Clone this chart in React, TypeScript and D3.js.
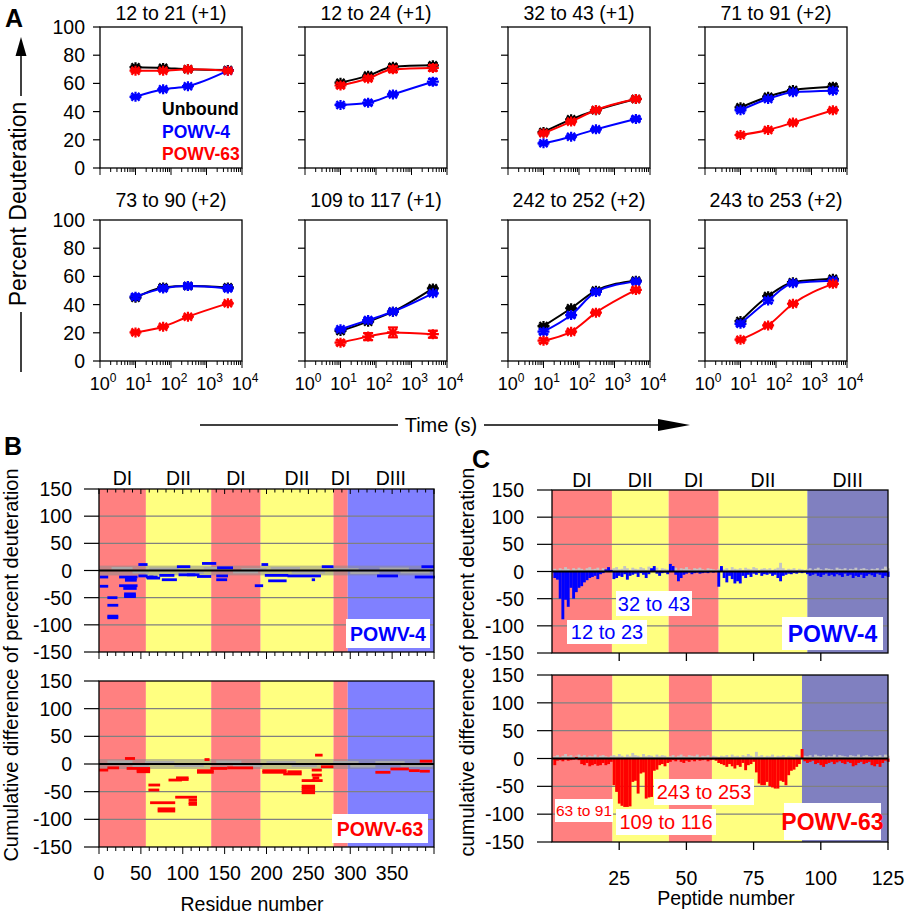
import React from "react";
import * as d3 from "d3";

const FONT = "'Liberation Sans', Arial, Helvetica, sans-serif";

// ---------------- Panel A data ----------------
const aTitles = [
  "12 to 21 (+1)", "12 to 24 (+1)", "32 to 43 (+1)", "71 to 91 (+2)",
  "73 to 90 (+2)", "109 to 117 (+1)", "242 to 252 (+2)", "243 to 253 (+2)",
];
const aTimes = [10, 60, 300, 4000];
const aUnbound = [
  [71.5, 71, 70, 69.5], [60.5, 65.5, 71.8, 72.8], [25.5, 34.5, 41, 49], [43, 50.6, 55.3, 57.7],
  [44.9, 52.2, 53.2, 52.2], [21.3, 27.9, 35, 51.5], [24.8, 37.4, 49.9, 57], [28.3, 46, 55.9, 58.3],
];
const aPowv4 = [
  [50.5, 55.8, 58, 69], [44.7, 46.3, 52.2, 61.2], [17.5, 22.2, 27.4, 34.8], [41, 49, 53.7, 54.8],
  [45.6, 51.5, 53.2, 51.5], [22.5, 29, 35, 48], [20.8, 32.6, 49, 56.3], [26.4, 42.9, 55.2, 57],
];
const aPowv63 = [
  [69, 69, 70, 69], [58.5, 63.5, 70, 71], [24.6, 32.9, 41.1, 48.9], [23.4, 27, 32.2, 41],
  [20.3, 24.3, 31.4, 40.9], [13, 17.3, 20.3, 19], [14.4, 20.8, 34.3, 50.4], [15.1, 25.2, 40.6, 54.7],
];
const aErrU = [
  [1, 1, 1, 1], [1, 1, 1.5, 1.5], [1, 1, 1, 1], [1, 1, 1, 1.5],
  [1, 1.5, 1.5, 1.5], [1, 1, 1, 1], [1, 1, 1, 1], [1, 1, 1, 1],
];
const aErr4 = [
  [1, 1, 1, 1], [1, 1.5, 1, 2], [1, 1, 1, 1.5], [1, 1, 1, 1.5],
  [1.5, 1.5, 1.5, 1.5], [1, 1.5, 1, 1], [1.5, 1.5, 1.5, 1], [1.5, 1.5, 1, 1],
];
const aErr63 = [
  [1, 1, 1, 1], [1.5, 1.5, 2, 2], [1, 1, 1, 1], [1, 1, 1, 1],
  [1, 1, 1, 1], [1.5, 2.5, 3.5, 2.5], [1.5, 1, 1, 1.5], [1, 1, 1, 1],
];
const aLegend = ["Unbound", "POWV-4", "POWV-63"];

// ---------------- Panel B data (residue segments: start, end, value) ----------------
const bRegions: [number, number, string][] = [
  [0, 56, "DI"], [56, 134, "DII"], [134, 193, "DI"], [193, 280, "DII"], [280, 297, "DI"], [297, 400, "DIII"],
];
const bTicks = [0, 50, 100, 150, 200, 250, 300, 350];
const bPowv4: [number, number, number][] = [
  [1, 11, -12], [1, 11, -29], [10, 22, -50], [10, 23, -64], [10, 23, -84], [10, 23, -87],
  [24, 46, -12], [31, 45, -15], [31, 45, -18], [24, 46, -28], [29, 45, -33], [30, 44, -43],
  [30, 44, -46], [30, 44, -48], [47, 58, 11], [47, 58, -10], [57, 73, -14], [60, 70, -12],
  [56, 65, -12], [72, 90, -9], [75, 93, -17], [93, 109, 7], [95, 115, -8], [105, 120, -8],
  [117, 134, -11], [123, 140, 13], [141, 160, 5], [140, 154, -10], [140, 153, -17], [186, 196, -28],
  [194, 202, 11], [198, 226, -9], [202, 224, -19], [225, 265, -10], [254, 258, -17], [266, 280, 7],
  [332, 357, -10], [377, 401, -12], [385, 400, 7],
];
const bGray4: [number, number, number][] = [
  [15, 40, 4], [40, 60, -3], [60, 95, 3], [95, 125, -4], [125, 160, 4], [160, 190, -3], [170, 200, 2],
  [205, 240, 4], [230, 270, -3], [280, 310, 2], [300, 335, -4], [335, 370, 3], [360, 395, -3],
];
const bPowv63: [number, number, number][] = [
  [0, 11, -11], [10, 24, -7], [31, 43, 10], [33, 61, -8], [45, 61, -11], [45, 61, -14],
  [59, 73, -38], [59, 72, -47], [61, 91, -70], [70, 91, -81], [70, 91, -85], [83, 99, -29],
  [92, 107, -25], [92, 107, -28], [91, 117, -60], [107, 117, -65], [107, 117, -70], [107, 117, -73],
  [117, 137, -12], [117, 137, -15], [126, 132, 8], [133, 153, -8], [153, 184, -7], [195, 224, -12],
  [195, 224, -15], [220, 242, -18], [225, 242, -14], [242, 258, -30], [242, 258, -40], [242, 258, -44],
  [242, 258, -48], [242, 258, -52], [254, 266, -20], [255, 263, -25], [254, 267, -30], [258, 267, 16],
  [254, 266, -11], [265, 280, -5], [330, 348, -15], [348, 370, -9], [370, 383, -12], [383, 395, -13],
  [383, 398, 5],
];
const bGray63: [number, number, number][] = [
  [10, 40, 4], [40, 60, -3], [55, 90, 3], [90, 125, -3], [140, 170, 4], [160, 195, -3], [200, 235, 3],
  [230, 260, -3], [280, 310, 3], [300, 330, -4], [330, 365, 3], [360, 398, -3],
];

// ---------------- Panel C data (per-peptide values) ----------------
const cRegionsTop: [number, number, string][] = [
  [0, 22.3, "DI"], [22.3, 43.4, "DII"], [43.4, 62, "DI"], [62, 95, "DII"], [95, 125, "DIII"],
];
const cRegionsBottom: [number, number, string][] = [
  [0, 22.5, "DI"], [22.5, 43.5, "DII"], [43.5, 59.5, "DI"], [59.5, 93, "DII"], [93, 125, "DIII"],
];
const cTicks = [25, 50, 75, 100, 125];
const cPowv4 = [
  -12, -15, -50, -88, -52, -65, -30, -50, -38, -30, -27, -20, -16, -12, -10, -8, -14, -5, -3, 4, 8, 3,
  -14, -12, -8, -10, -5, -15, -8, -6, -4, -10, -3, -6, -12, -5, 6, 10, -4, -8, -3, -2, -5,
  14, 10, -6, -18, -12, -6, -4, -2, -5, -3, -2, -4, -3, -2, -3, -1, -2, -1,
  -28, 10, -12, -20, -8, -14, -22, -18, -22, -8, -12, -6, -10, -4, -6, -3, -8, -5, -6, -4, -8, -6, -12, -18, -8, -6, -4, -5, -3, -4, -2, -3, -2,
  -5, -8, -6, -4, -8, -10, -6, -4, -8, -6, -9, -5, -7, -10, -4, -8, -6, -12, -8, -10, -6, -12, -8, -5, -7, -10, -4, -6, -12, -8, -10,
];
const cGray4 = [
  5, 3, 6, 4, 8, 5, 3, 6, 4, 7, 5, 3, 6, 8, 4, 5, 7, 3, 6, 4, 5, 3,
  6, 8, 4, 5, 10, 6, 3, 7, 5, 4, 8, 6, 3, 9, 5, 4, 7, 3, 6, 5, 4,
  5, 4, 7, 3, 6, 5, 8, 4, 3, 6, 5, 7, 4, 3, 6, 5, 4, 3,
  5, 7, 4, 6, 3, 8, 5, 4, 6, 3, 7, 5, 4, 8, 6, 3, 5, 6, 4, 6, 3, 5, 7, 16, 6, 3, 5, 4, 6, 3, 5, 4, 3,
  4, 6, 3, 5, 7, 4, 3, 6, 5, 4, 3, 7, 5, 4, 6, 3, 5, 4, 7, 3, 5, 6, 4, 3, 5, 4, 6, 3, 5, 9, 6,
];
const cPowv63 = [
  -12, -4, -3, -5, -2, -4, -3, -2, 3, -3, -10, -12, -8, -14, -12, -10, -13, -12, -8, -12, -10, -6,
  -48, -60, -81, -85, -87, -87, -86, -42, -40, -63, -27, -25, -72, -70, -69, -22, -20, -12, -10, -14, -8,
  -6, -3, -5, -2, -6, -8, -4, -6, -3, -5, -2, -4, -3, -2, -5, -3, -2, -4,
  -8, -10, -12, -15, -10, -14, -18, -12, -15, -8, -21, -12, -10, -6, -25, -45, -48, -48, -42, -50, -52, -54, -54, -40, -42, -48, -30, -22, -20, -15, -10, 17,
  -5, -8, -6, -4, -10, -8, -12, -15, -10, -8, -6, -10, -7, -5, -8, -10, -6, -8, -14, -12, -8, -6, -10, -8, -6, -12, -14, -10, -15, -8, -4, -6,
];
const cGray63 = [
  4, 6, 3, 5, 8, 4, 6, 3, 5, 7, 4, 6, 3, 5, 4, 7, 3, 5, 6, 4, 3, 5,
  6, 4, 8, 5, 3, 7, 4, 10, 6, 5, 3, 8, 4, 6, 5, 3, 7, 4, 6, 5, 3,
  4, 6, 3, 5, 7, 4, 3, 6, 5, 4, 7, 3, 5, 4, 6, 3, 5, 4,
  3, 5, 4, 6, 3, 7, 4, 5, 3, 6, 4, 8, 5, 3, 12, 4, 6, 3, 5, 4, 7, 3, 5, 4, 6, 3, 5, 4, 3, 7, 5, 4,
  5, 4, 6, 3, 7, 5, 4, 6, 3, 5, 4, 7, 3, 6, 5, 4, 3, 6, 5, 4, 7, 3, 5, 6, 4, 3, 5, 4, 6, 3, 7, 5,
];

const yTicksBC = [150, 100, 50, 0, -50, -100, -150];
const fillB: Record<string, string> = { DI: "#FF8080", DII: "#FFFF80", DIII: "#8080FF" };
const fillC: Record<string, string> = { DI: "#FF8080", DII: "#FFFF80", DIII: "#8080C0" };

// ---------------- Panel A component ----------------
const aColLeft = [100, 305, 508, 705];
const aRowTop = [27, 220];
const AW = 142, AH = 141;

function asterisk(cx: number, cy: number) {
  return `M${cx - 6},${cy}H${cx + 6}M${cx},${cy - 5}V${cy + 5}M${cx - 4},${cy - 4}L${cx + 4},${cy + 4}M${cx - 4},${cy + 4}L${cx + 4},${cy - 4}`;
}

function SmallPlot({ i }: { i: number }) {
  const col = i % 4, row = Math.floor(i / 4);
  const left = aColLeft[col], top = aRowTop[row];
  const x = d3.scaleLog().domain([1, 1e4]).range([left, left + AW]);
  const y = d3.scaleLinear().domain([0, 100]).range([top + AH, top]);
  const line = d3.line<number>().x((_, k) => x(aTimes[k])).y((d) => y(d)).curve(d3.curveMonotoneX);
  const ticks: { v: number; major: boolean }[] = [];
  for (let k = 0; k < 4; k++) for (let m = 1; m < 10; m++) ticks.push({ v: m * Math.pow(10, k), major: m === 1 });
  ticks.push({ v: 1e4, major: true });
  const series = [
    { data: aUnbound[i], err: aErrU[i], color: "#000000" },
    { data: aPowv4[i], err: aErr4[i], color: "#0000FF" },
    { data: aPowv63[i], err: aErr63[i], color: "#FF0000" },
  ];
  return (
    <g>
      <text x={left + AW / 2} y={row === 0 ? 20 : 207} textAnchor="middle" fontSize={19.5}>{aTitles[i]}</text>
      <rect x={left} y={top} width={AW} height={AH} fill="#fff" stroke="#000" strokeWidth={1.3} />
      {y.ticks(5).map((t) => (
        <g key={"y" + t}>
          <line x1={left - 7} x2={left} y1={y(t)} y2={y(t)} stroke="#000" strokeWidth={1.2} />
          {col === 0 && (
            <text x={left - 15} y={y(t) + 7} textAnchor="end" fontSize={19.5}>{t}</text>
          )}
        </g>
      ))}
      {ticks.map((t, k) => (
        <line key={"x" + k} x1={x(t.v)} x2={x(t.v)} y1={top + AH} y2={top + AH + (t.major ? 7 : 4)} stroke="#000" strokeWidth={1} />
      ))}
      {row === 1 && [0, 1, 2, 3, 4].map((k) => (
        <text key={"xl" + k} x={x(Math.pow(10, k)) + 3} y={390} textAnchor="middle" fontSize={18}>
          10<tspan fontSize={12} dy={-8}>{k}</tspan>
        </text>
      ))}
      {series.map((s, si) => (
        <g key={"s" + si}>
          <path d={line(s.data) || ""} fill="none" stroke={s.color} strokeWidth={2} />
          {s.data.map((v, k) => {
            const cx = x(aTimes[k]);
            const e = s.err[k];
            return (
              <g key={k} stroke={s.color} strokeWidth={2.2} fill="none">
                <path d={asterisk(cx, y(v))} />
                <line x1={cx} x2={cx} y1={y(v - e)} y2={y(v + e)} />
                <line x1={cx - 5} x2={cx + 5} y1={y(v - e)} y2={y(v - e)} />
                <line x1={cx - 5} x2={cx + 5} y1={y(v + e)} y2={y(v + e)} />
              </g>
            );
          })}
        </g>
      ))}
      {i === 0 && (
        <g fontWeight="bold" fontSize={17.5}>
          <text x={162} y={115} fill="#000">{aLegend[0]}</text>
          <text x={162} y={138} fill="#0000FF">{aLegend[1]}</text>
          <text x={162} y={160} fill="#FF0000">{aLegend[2]}</text>
        </g>
      )}
    </g>
  );
}

// ---------------- Panel B component ----------------
function BPanel({ y0, y1, segs, grays, color, label, top, box }: any) {
  const L = 99, R = 434;
  const x = d3.scaleLinear().domain([0, 400]).range([L, R]);
  const y = d3.scaleLinear().domain([-150, 150]).range([y1, y0]);
  const minor = d3.range(0, 401, 10);
  return (
    <g>
      {bRegions.map((r, k) => (
        <rect key={"r" + k} x={x(r[0])} y={y0} width={x(r[1]) - x(r[0])} height={y1 - y0} fill={fillB[r[2]]} />
      ))}
      {top && bRegions.map((r, k) => (
        <text key={"d" + k} x={(x(r[0]) + x(r[1])) / 2} y={485} textAnchor="middle" fontSize={19.5}>{r[2]}</text>
      ))}
      {[100, 50, -50, -100].map((v) => (
        <line key={"g" + v} x1={L} x2={R} y1={y(v)} y2={y(v)} stroke="#808080" strokeWidth={1.2} />
      ))}
      <rect x={L} y={y(9)} width={R - L} height={y(-9) - y(9)} fill="#8a8a8a" opacity={0.55} />
      {grays.map((s: number[], k: number) => (
        <rect key={"gs" + k} x={x(s[0])} y={y(s[2]) - 1.3} width={x(s[1]) - x(s[0])} height={2.6} fill="#a8a8a8" />
      ))}
      {segs.map((s: number[], k: number) => (
        <rect key={"s" + k} x={x(s[0])} y={y(s[2]) - 1.4} width={x(s[1]) - x(s[0])} height={2.8} fill={color} />
      ))}
      <line x1={L} x2={R} y1={y(0)} y2={y(0)} stroke="#000" strokeWidth={2} />
      <rect x={L} y={y0} width={R - L} height={y1 - y0} fill="none" stroke="#000" strokeWidth={1.3} />
      {yTicksBC.map((t) => (
        <g key={"yt" + t}>
          <line x1={L - 15} x2={L} y1={y(t)} y2={y(t)} stroke="#000" strokeWidth={1.2} />
          <text x={72} y={y(t) + 7} textAnchor="end" fontSize={19.5}>{t}</text>
        </g>
      ))}
      {minor.map((v) => (
        <line key={"xt" + v} x1={x(v)} x2={x(v)} y1={y1} y2={y1 + (v % 50 === 0 ? 7 : 4)} stroke="#000" strokeWidth={1} />
      ))}
      {top && minor.map((v) => (
        <line key={"tt" + v} x1={x(v)} x2={x(v)} y1={y0} y2={y0 + (v % 50 === 0 ? 5 : 3.5)} stroke="#000" strokeWidth={1} />
      ))}
      {!top && bTicks.map((v) => (
        <text key={"xl" + v} x={x(v)} y={880} textAnchor="middle" fontSize={19.5}>{v}</text>
      ))}
      <rect x={box[0]} y={box[1]} width={box[2]} height={box[3]} fill="#fff" />
      <text x={box[0] + box[2] / 2} y={box[1] + box[3] / 2 + 7} textAnchor="middle" fontSize={19.5} fontWeight="bold" fill={color}>{label}</text>
    </g>
  );
}

// ---------------- Panel C component ----------------
function CPanel({ y0, y1, vals, grays, color, regions, top, notes }: any) {
  const L = 552, R = 888;
  const x = d3.scaleLinear().domain([0, 125]).range([L, R]);
  const y = d3.scaleLinear().domain([-150, 150]).range([y1, y0]);
  const bw = x(1) - x(0);
  return (
    <g>
      {regions.map((r: any, k: number) => (
        <rect key={"r" + k} x={x(r[0])} y={y0} width={x(r[1]) - x(r[0])} height={y1 - y0} fill={fillC[r[2]]} />
      ))}
      {top && regions.map((r: any, k: number) => (
        <text key={"d" + k} x={(x(r[0]) + x(r[1])) / 2} y={487} textAnchor="middle" fontSize={19.5}>{r[2]}</text>
      ))}
      {[100, 50, -50, -100].map((v) => (
        <line key={"g" + v} x1={L} x2={R} y1={y(v)} y2={y(v)} stroke="#808080" strokeWidth={1.2} />
      ))}
      {grays.map((v: number, k: number) => (
        <rect key={"gb" + k} x={x(k + 0.5)} y={Math.min(y(v), y(0))} width={bw + 0.2} height={Math.abs(y(v) - y(0))} fill="#c4c4c4" />
      ))}
      {vals.map((v: number, k: number) => (
        <rect key={"b" + k} x={x(k + 0.5)} y={Math.min(y(v), y(0))} width={bw + 0.2} height={Math.abs(y(v) - y(0))} fill={color} />
      ))}
      <line x1={L} x2={R} y1={y(0)} y2={y(0)} stroke="#000" strokeWidth={1.8} />
      <rect x={L} y={y0} width={R - L} height={y1 - y0} fill="none" stroke="#000" strokeWidth={1.3} />
      {yTicksBC.map((t) => (
        <g key={"yt" + t}>
          <line x1={L - 15} x2={L} y1={y(t)} y2={y(t)} stroke="#000" strokeWidth={1.2} />
          <text x={524} y={y(t) + 7} textAnchor="end" fontSize={19.5}>{t}</text>
        </g>
      ))}
      {(top ? cTicks.slice(0, 4) : cTicks).map((v) => (
        <line key={"xt" + v} x1={x(v)} x2={x(v)} y1={y1} y2={y1 + 8} stroke="#000" strokeWidth={1.3} />
      ))}
      {!top && cTicks.map((v) => (
        <text key={"xl" + v} x={x(v)} y={885} textAnchor="middle" fontSize={19.5}>{v}</text>
      ))}
      {notes.map((n: any, k: number) => (
        <g key={"n" + k}>
          <rect x={n.x} y={n.y} width={n.w} height={n.h} fill="#fff" />
          <text x={n.x + n.w / 2} y={n.y + n.h / 2 + n.fs * 0.36} textAnchor="middle" fontSize={n.fs} fontWeight={n.bold ? "bold" : "normal"} fill={color}>{n.t}</text>
        </g>
      ))}
    </g>
  );
}

export default function App() {
  return (
    <svg width={906} height={915} viewBox="0 0 906 915" fontFamily={FONT}
      style={{ position: "absolute", left: 0, top: 0, display: "block", background: "#fff" }}>
      <rect width={906} height={915} fill="#fff" />
      {/* Panel letters */}
      <text x={5} y={27} fontSize={25} fontWeight="bold">A</text>
      <text x={4} y={455} fontSize={25} fontWeight="bold">B</text>
      <text x={472} y={468} fontSize={25} fontWeight="bold">C</text>

      {/* Panel A */}
      {d3.range(8).map((i) => <SmallPlot key={i} i={i} />)}
      {/* A y-axis label with arrow */}
      <line x1={21} x2={21} y1={372} y2={312} stroke="#000" strokeWidth={1.5} />
      <line x1={21} x2={21} y1={96} y2={54} stroke="#000" strokeWidth={1.5} />
      <path d="M15.5,56 L26.5,56 L21,37 Z" fill="#000" />
      <text transform="translate(26,204) rotate(-90)" textAnchor="middle" fontSize={23}>Percent Deuteration</text>
      {/* Time axis label with arrow */}
      <line x1={200} x2={398} y1={425} y2={425} stroke="#000" strokeWidth={1.5} />
      <line x1={484} x2={660} y1={425} y2={425} stroke="#000" strokeWidth={1.5} />
      <path d="M658,419 L658,431 L690,425 Z" fill="#000" />
      <text x={441} y={432} textAnchor="middle" fontSize={20}>Time (s)</text>

      {/* Panel B */}
      <BPanel y0={489} y1={652} segs={bPowv4} grays={bGray4} color="#0000FF" label="POWV-4" top={true} box={[346, 619, 84, 29]} />
      <BPanel y0={681} y1={847} segs={bPowv63} grays={bGray63} color="#FF0000" label="POWV-63" top={false} box={[332, 814, 96, 29]} />
      <text transform="translate(18,665) rotate(-90)" textAnchor="middle" fontSize={20}>Cumulative difference of percent deuteration</text>
      <text x={252} y={911} textAnchor="middle" fontSize={19.5}>Residue number</text>

      {/* Panel C */}
      <CPanel y0={490} y1={653} vals={cPowv4} grays={cGray4} color="#0000FF" regions={cRegionsTop} top={true}
        notes={[
          { t: "32 to 43", x: 616, y: 591, w: 76, h: 25, fs: 20 },
          { t: "12 to 23", x: 567, y: 620, w: 80, h: 24, fs: 20 },
          { t: "POWV-4", x: 782, y: 617, w: 101, h: 33, fs: 23, bold: true },
        ]} />
      <CPanel y0={675} y1={842} vals={cPowv63} grays={cGray63} color="#FF0000" regions={cRegionsBottom} top={false}
        notes={[
          { t: "243 to 253", x: 654, y: 779, w: 100, h: 26, fs: 20 },
          { t: "63 to 91", x: 555, y: 799, w: 58, h: 23, fs: 15.5 },
          { t: "109 to 116", x: 616, y: 809, w: 100, h: 26, fs: 20 },
          { t: "POWV-63", x: 784, y: 803, w: 97, h: 37, fs: 23, bold: true },
        ]} />
      <text transform="translate(474,662) rotate(-90)" textAnchor="middle" fontSize={20}>cumulative difference of percent deuteration</text>
      <text x={726} y={905} textAnchor="middle" fontSize={19.5}>Peptide number</text>
    </svg>
  );
}
